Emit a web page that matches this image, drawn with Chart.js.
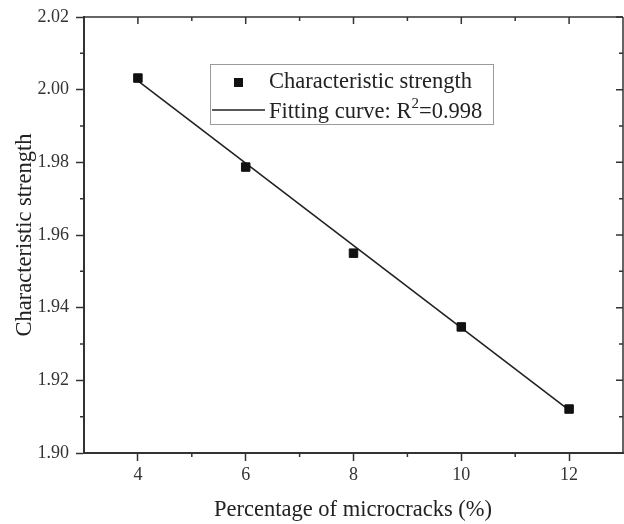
<!DOCTYPE html>
<html>
<head>
<meta charset="utf-8">
<script src="https://cdn.jsdelivr.net/npm/chart.js@4.4.1/dist/chart.umd.min.js"></script>
<style>
  html, body { margin: 0; padding: 0; background: #fff; }
  #wrap { width: 624px; height: 524px; }
</style>
</head>
<body>
<div id="wrap"><canvas id="c" width="624" height="524"></canvas></div>
<script>
// ---- data ----
const microcracks = [4, 6, 8, 10, 12];
const strength = [2.0032, 1.9787, 1.9550, 1.9347, 1.9121];
const fitX = [4, 12];
const fitY = [2.0024, 1.9118];
const xTicks = [4, 6, 8, 10, 12];
const xMinorTicks = [5, 7, 9, 11];
const yTicks = [1.90, 1.92, 1.94, 1.96, 1.98, 2.00, 2.02];
const yMinorTicks = [1.91, 1.93, 1.95, 1.97, 1.99, 2.01];
const xTitle = 'Percentage of microcracks (%)';
const yTitle = 'Characteristic strength';
const legendMarkerLabel = 'Characteristic strength';
const legendLineLabel = 'Fitting curve: R';
const legendLineSup = '2';
const legendLineTail = '=0.998';

const SERIF = '"Liberation Serif", "Times New Roman", serif';
const AXIS = '#333';
const INK = '#222';

const decorPlugin = {
  id: 'decor',
  afterDraw(chart) {
    const ctx = chart.ctx;
    const a = chart.chartArea;
    const xs = chart.scales.x, ys = chart.scales.y;
    ctx.save();
    ctx.strokeStyle = AXIS;
    // frame top/right
    ctx.lineWidth = 1.5;
    ctx.beginPath();
    ctx.moveTo(a.left, a.top); ctx.lineTo(a.right, a.top);
    ctx.moveTo(a.right, a.top); ctx.lineTo(a.right, a.bottom);
    ctx.stroke();
    ctx.lineWidth = 1.5;
    ctx.beginPath();
    // top inward ticks
    xTicks.forEach(v => { const p = xs.getPixelForValue(v); ctx.moveTo(p, a.top); ctx.lineTo(p, a.top + 7); });
    xMinorTicks.forEach(v => { const p = xs.getPixelForValue(v); ctx.moveTo(p, a.top); ctx.lineTo(p, a.top + 4); });
    // right inward ticks
    yTicks.forEach(v => { const p = ys.getPixelForValue(v); ctx.moveTo(a.right, p); ctx.lineTo(a.right - 7, p); });
    yMinorTicks.forEach(v => { const p = ys.getPixelForValue(v); ctx.moveTo(a.right, p); ctx.lineTo(a.right - 4, p); });
    // bottom minor outward
    xMinorTicks.forEach(v => { const p = xs.getPixelForValue(v); ctx.moveTo(p, a.bottom); ctx.lineTo(p, a.bottom + 4); });
    // left minor outward
    yMinorTicks.forEach(v => { const p = ys.getPixelForValue(v); ctx.moveTo(a.left, p); ctx.lineTo(a.left - 4, p); });
    ctx.stroke();

    // axis titles
    ctx.fillStyle = INK;
    ctx.font = '22.5px ' + SERIF;
    ctx.textAlign = 'center';
    ctx.textBaseline = 'middle';
    ctx.fillText(xTitle, 353, 510);
    ctx.save();
    ctx.translate(25, 235);
    ctx.rotate(-Math.PI / 2);
    ctx.fillText(yTitle, 0, 0);
    ctx.restore();

    // legend
    const bx = 210, by = 64, bw = 283, bh = 60;
    ctx.strokeStyle = '#9a9a9a';
    ctx.lineWidth = 1;
    ctx.strokeRect(bx + 0.5, by + 0.5, bw, bh);
    ctx.fillStyle = '#111';
    ctx.fillRect(234, 78, 9, 9);
    ctx.strokeStyle = INK;
    ctx.lineWidth = 1.5;
    ctx.beginPath(); ctx.moveTo(212, 110); ctx.lineTo(265, 110); ctx.stroke();
    ctx.fillStyle = INK;
    ctx.textAlign = 'left';
    ctx.textBaseline = 'alphabetic';
    ctx.font = '22.5px ' + SERIF;
    ctx.fillText(legendMarkerLabel, 269, 88);
    ctx.fillText(legendLineLabel, 269, 118);
    let w = ctx.measureText(legendLineLabel).width;
    ctx.font = '15px ' + SERIF;
    ctx.fillText(legendLineSup, 269 + w, 108);
    const w2 = ctx.measureText(legendLineSup).width;
    ctx.font = '22.5px ' + SERIF;
    ctx.fillText(legendLineTail, 269 + w + w2, 118);
    ctx.restore();
  }
};

new Chart(document.getElementById('c'), {
  type: 'scatter',
  data: {
    datasets: [
      {
        label: 'Fitting curve',
        type: 'line',
        data: fitX.map((x, i) => ({ x: x, y: fitY[i] })),
        borderColor: INK,
        borderWidth: 1.6,
        pointRadius: 0,
        showLine: true,
        fill: false,
        order: 2
      },
      {
        label: 'Characteristic strength',
        data: microcracks.map((x, i) => ({ x: x, y: strength[i] })),
        pointStyle: 'rect',
        pointRadius: 6,
        backgroundColor: '#111',
        borderColor: '#111',
        borderWidth: 1,
        order: 1
      }
    ]
  },
  options: {
    responsive: false,
    animation: false,
    devicePixelRatio: 1,
    layout: { autoPadding: false, padding: { top: 17, right: 1, left: 0, bottom: 0 } },
    plugins: { legend: { display: false }, tooltip: { enabled: false } },
    scales: {
      x: {
        type: 'linear',
        min: 3, max: 13,
        afterBuildTicks: s => { s.ticks = xTicks.map(v => ({ value: v })); },
        afterFit: s => { s.height = 71; s.paddingLeft = 0; s.paddingRight = 0; },
        grid: { display: true, drawOnChartArea: false, drawTicks: true, tickLength: 8, tickWidth: 1.5, tickColor: AXIS },
        border: { display: true, color: AXIS, width: 2 },
        ticks: { color: '#333', font: { family: SERIF, size: 18 }, padding: 3, callback: v => String(v), maxRotation: 0 }
      },
      y: {
        type: 'linear',
        min: 1.90, max: 2.02,
        afterBuildTicks: s => { s.ticks = yTicks.map(v => ({ value: v })); },
        afterFit: s => { s.width = 84; s.paddingTop = 0; s.paddingBottom = 0; },
        grid: { display: true, drawOnChartArea: false, drawTicks: true, tickLength: 8, tickWidth: 1.5, tickColor: AXIS },
        border: { display: true, color: AXIS, width: 2 },
        ticks: { color: '#333', font: { family: SERIF, size: 18 }, padding: 7, callback: v => Number(v).toFixed(2) }
      }
    }
  },
  plugins: [decorPlugin]
});
</script>
</body>
</html>
